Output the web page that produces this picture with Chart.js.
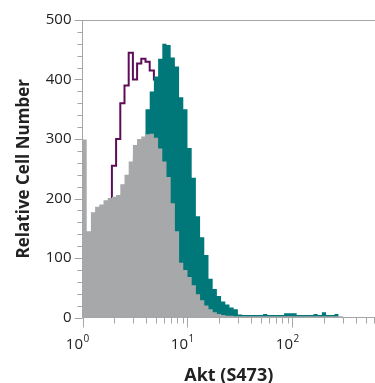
<!DOCTYPE html>
<html>
<head>
<meta charset="utf-8">
<script src="https://cdn.jsdelivr.net/npm/chart.js@4/dist/chart.umd.min.js"></script>
<style>
  html, body { margin: 0; padding: 0; background: #fff; }
  #wrap { width: 375px; height: 383px; }
</style>
</head>
<body>
<div id="wrap"><canvas id="chart" width="375" height="383"></canvas></div>
<script>
// bins are 0.04 decade wide, starting at 10^0
const binWidth = 0.04;

// isotype control (grey, filled)
const greyCounts = [
  299, 145, 177, 186, 190, 197, 201, 203, 206, 224,
  240, 262, 290, 300, 304, 308, 309, 302, 284, 262,
  236, 192, 145, 92, 80, 68, 54, 39, 29, 20,
  14, 9, 6, 4, 3, 3, 2, 2, 2, 2,
  2, 2, 2, 2, 2, 2, 2, 2, 2, 2,
  2, 2, 2, 2, 2, 2, 2, 2, 2, 2,
  2, 2
];

// treated sample (teal, filled)
const tealCounts = [
  20, 30, 42, 55, 70, 88, 108, 130, 155, 180,
  210, 240, 270, 292, 300, 350, 380, 405, 435, 460,
  458, 437, 422, 370, 350, 285, 235, 170, 135, 105,
  65, 48, 36, 27, 22, 17, 14, 5, 4, 4,
  4, 4, 4, 6, 4, 4, 4, 4, 7, 7,
  7, 4, 4, 4, 4, 6, 4, 9, 4, 4,
  6
];

// untreated sample (purple outline)
const purpleCounts = [
  80, 100, 120, 140, 150, 160, 175, 255, 300, 360,
  390, 445, 400, 427, 435, 430, 415, 400, 380, 360,
  330, 290, 240, 190, 150, 110, 80, 50, 30, 20,
  10
];

const yTicks = [0, 100, 200, 300, 400, 500];
const xDecades = [0, 1, 2];
const xExponents = ['0', '1', '2'];

function toSteps(counts) {
  const pts = counts.map((c, i) => ({ x: i * binWidth, y: c }));
  pts.push({ x: counts.length * binWidth, y: 0 });
  return pts;
}

const axisDecor = {
  id: 'axisDecor',
  afterDraw(chart) {
    const { ctx, chartArea: a, scales: { x, y } } = chart;
    ctx.save();
    ctx.strokeStyle = '#a6a6a6';
    ctx.lineWidth = 1;
    ctx.beginPath();
    // top frame line
    ctx.moveTo(a.left, a.top + 0.5);
    ctx.lineTo(a.right, a.top + 0.5);
    // y ticks, minor every 20
    for (let v = 0; v <= 500; v += 20) {
      const py = Math.round(y.getPixelForValue(v)) + 0.5;
      const len = v % 100 === 0 ? 8 : 5;
      ctx.moveTo(a.left - len, py);
      ctx.lineTo(a.left, py);
    }
    // x ticks, log spaced
    xDecades.forEach(d => {
      for (let m = 1; m <= 9; m++) {
        const v = d + Math.log10(m);
        if (v > x.max) continue;
        const px = Math.round(x.getPixelForValue(v)) + 0.5;
        const len = m === 1 ? 10 : 6;
        ctx.moveTo(px, a.bottom);
        ctx.lineTo(px, a.bottom + len);
      }
    });
    ctx.stroke();

    // x tick labels 10^n
    ctx.fillStyle = '#222';
    ctx.textBaseline = 'alphabetic';
    xDecades.forEach((d, i) => {
      const px = x.getPixelForValue(d);
      ctx.font = '15px "Open Sans"';
      ctx.textAlign = 'right';
      ctx.fillText('10', px + 0.5, 348.5);
      ctx.font = '10px "Open Sans"';
      ctx.textAlign = 'left';
      ctx.fillText(xExponents[i], px + 1, 342);
    });
    ctx.restore();
  }
};

new Chart(document.getElementById('chart'), {
  type: 'line',
  data: {
    datasets: [
      {
        label: 'Isotype',
        data: toSteps(greyCounts),
        stepped: 'before',
        borderWidth: 0,
        pointRadius: 0,
        backgroundColor: '#a7a8aa',
        fill: 'origin'
      },
      {
        label: 'Treated',
        data: toSteps(tealCounts),
        stepped: 'before',
        borderWidth: 0,
        pointRadius: 0,
        backgroundColor: '#00787a',
        fill: 'origin'
      },
      {
        label: 'Untreated',
        data: toSteps(purpleCounts),
        stepped: 'before',
        borderWidth: 2,
        borderColor: '#5e0c58',
        pointRadius: 0,
        fill: false,
        clip: 0
      }
    ]
  },
  options: {
    responsive: false,
    animation: false,
    devicePixelRatio: 1,
    layout: { padding: { top: 16.5, right: 0, left: 0, bottom: 0 } },
    plugins: {
      legend: { display: false },
      tooltip: { enabled: false }
    },
    scales: {
      x: {
        type: 'linear',
        min: 0,
        max: 2.786,
        grid: { display: false },
        border: { display: true, color: '#a6a6a6', width: 1, z: 1 },
        ticks: { display: false },
        title: {
          display: true,
          text: 'Akt (S473)',
          color: '#222',
          font: { family: '"Open Sans"', size: 18, weight: 'bold', lineHeight: 0.8 },
          padding: 0
        },
        afterFit(scale) { scale.height = 65.5; }
      },
      y: {
        min: 0,
        max: 500,
        grid: { display: false, drawTicks: false },
        border: { display: true, color: '#a6a6a6', width: 1, z: 1 },
        afterBuildTicks(scale) { scale.ticks = yTicks.map(v => ({ value: v })); },
        ticks: {
          color: '#222',
          padding: 11,
          font: { family: '"Open Sans"', size: 15 }
        },
        title: {
          display: true,
          text: 'Relative Cell Number',
          color: '#222',
          font: { family: '"Open Sans"', size: 17, weight: 'bold' },
          padding: { top: 14, bottom: 0 }
        },
        afterFit(scale) { scale.width = 82.5; }
      }
    }
  },
  plugins: [axisDecor]
});
</script>
</body>
</html>
